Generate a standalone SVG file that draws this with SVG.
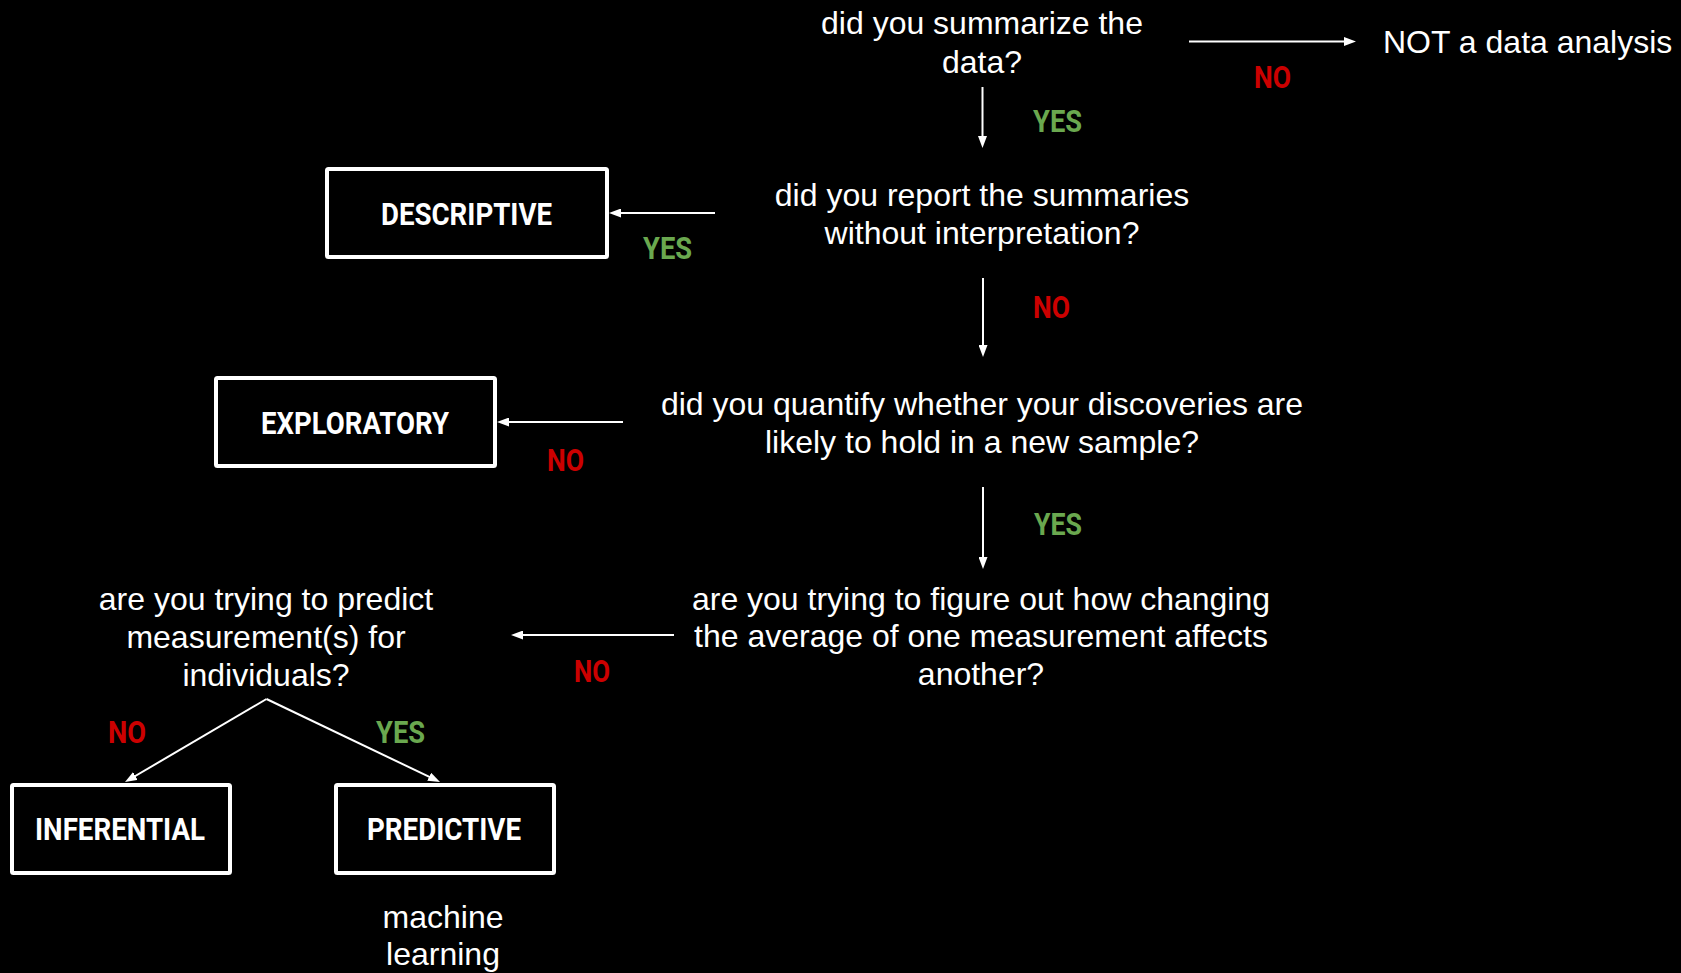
<svg xmlns="http://www.w3.org/2000/svg" width="1681" height="973" viewBox="0 0 1681 973">
  <defs>
    <marker id="arrow" markerUnits="userSpaceOnUse" markerWidth="12" markerHeight="9" refX="6" refY="4.5" orient="auto">
      <path d="M0,0 L12,4.5 L0,9 z" fill="#ffffff"/>
    </marker>
    <style>
      .q { font-family: "Liberation Sans", Arial, sans-serif; font-size: 32px; fill: #ffffff; text-anchor: middle; }
      .box { fill: #000000; stroke: #ffffff; stroke-width: 4; }
      .boxlabel { font-family: Roboto, "DejaVu Sans", sans-serif; font-weight: 700; font-size: 32px; fill: #ffffff; }
      .yes { font-family: Roboto, "DejaVu Sans", sans-serif; font-weight: 700; font-size: 32px; fill: #6aa84f; }
      .no { font-family: Roboto, "DejaVu Sans", sans-serif; font-weight: 700; font-size: 32px; fill: #cc0000; }
      .edge { stroke: #ffffff; stroke-width: 2; fill: none; marker-end: url(#arrow); }
    </style>
  </defs>

  <rect x="0" y="0" width="1681" height="973" fill="#000000"/>

  <!-- decision questions -->
  <g id="q-summarize">
    <text class="q" x="982" y="34">did you summarize the</text>
    <text class="q" x="982" y="73">data?</text>
  </g>
  <g id="not-analysis">
    <text class="q" x="1383" y="53" style="text-anchor:start">NOT a data analysis</text>
  </g>
  <g id="q-report">
    <text class="q" x="982" y="206">did you report the summaries</text>
    <text class="q" x="982" y="244">without interpretation?</text>
  </g>
  <g id="q-quantify">
    <text class="q" x="982" y="415">did you quantify whether your discoveries are</text>
    <text class="q" x="982" y="453">likely to hold in a new sample?</text>
  </g>
  <g id="q-average">
    <text class="q" x="981" y="610">are you trying to figure out how changing</text>
    <text class="q" x="981" y="647">the average of one measurement affects</text>
    <text class="q" x="981" y="685">another?</text>
  </g>
  <g id="q-predict">
    <text class="q" x="266" y="610">are you trying to predict</text>
    <text class="q" x="266" y="648">measurement(s) for</text>
    <text class="q" x="266" y="686">individuals?</text>
  </g>

  <!-- outcome boxes -->
  <g id="descriptive">
    <rect class="box" x="327" y="169" width="280" height="88" rx="1.5"/>
    <text class="boxlabel" x="381" y="225" textLength="171" lengthAdjust="spacingAndGlyphs">DESCRIPTIVE</text>
  </g>
  <g id="exploratory">
    <rect class="box" x="216" y="378" width="279" height="88" rx="1.5"/>
    <text class="boxlabel" x="261" y="434" textLength="188" lengthAdjust="spacingAndGlyphs">EXPLORATORY</text>
  </g>
  <g id="inferential">
    <rect class="box" x="12" y="785" width="218" height="88" rx="1.5"/>
    <text class="boxlabel" x="35" y="840" textLength="170" lengthAdjust="spacingAndGlyphs">INFERENTIAL</text>
  </g>
  <g id="predictive">
    <rect class="box" x="336" y="785" width="218" height="88" rx="1.5"/>
    <text class="boxlabel" x="367" y="840" textLength="154" lengthAdjust="spacingAndGlyphs">PREDICTIVE</text>
    <text class="q" x="443" y="928">machine</text>
    <text class="q" x="443" y="965">learning</text>
  </g>

  <!-- connectors -->
  <g id="connectors">
    <line class="edge" x1="1189" y1="41.5" x2="1350" y2="41.5"/>
    <line class="edge" x1="982.5" y1="87" x2="982.5" y2="142"/>
    <line class="edge" x1="715" y1="213" x2="615" y2="213"/>
    <line class="edge" x1="983" y1="278" x2="983" y2="351"/>
    <line class="edge" x1="623" y1="422" x2="503" y2="422"/>
    <line class="edge" x1="983" y1="487" x2="983" y2="563"/>
    <line class="edge" x1="674" y1="635" x2="517" y2="635"/>
    <line class="edge" x1="266.5" y1="699" x2="130.2" y2="779"/>
    <line class="edge" x1="266.5" y1="699" x2="434.6" y2="779.4"/>

    <!-- branch labels -->
    <text class="no" x="1254" y="88" textLength="37" lengthAdjust="spacingAndGlyphs">NO</text>
    <text class="yes" x="1033" y="132" textLength="49" lengthAdjust="spacingAndGlyphs">YES</text>
    <text class="yes" x="643" y="259" textLength="49" lengthAdjust="spacingAndGlyphs">YES</text>
    <text class="no" x="1033" y="318" textLength="37" lengthAdjust="spacingAndGlyphs">NO</text>
    <text class="no" x="547" y="471" textLength="37" lengthAdjust="spacingAndGlyphs">NO</text>
    <text class="yes" x="1034" y="535" textLength="48" lengthAdjust="spacingAndGlyphs">YES</text>
    <text class="no" x="574" y="682" textLength="36" lengthAdjust="spacingAndGlyphs">NO</text>
    <text class="no" x="108" y="743" textLength="38" lengthAdjust="spacingAndGlyphs">NO</text>
    <text class="yes" x="376" y="743" textLength="49" lengthAdjust="spacingAndGlyphs">YES</text>
  </g>
</svg>
